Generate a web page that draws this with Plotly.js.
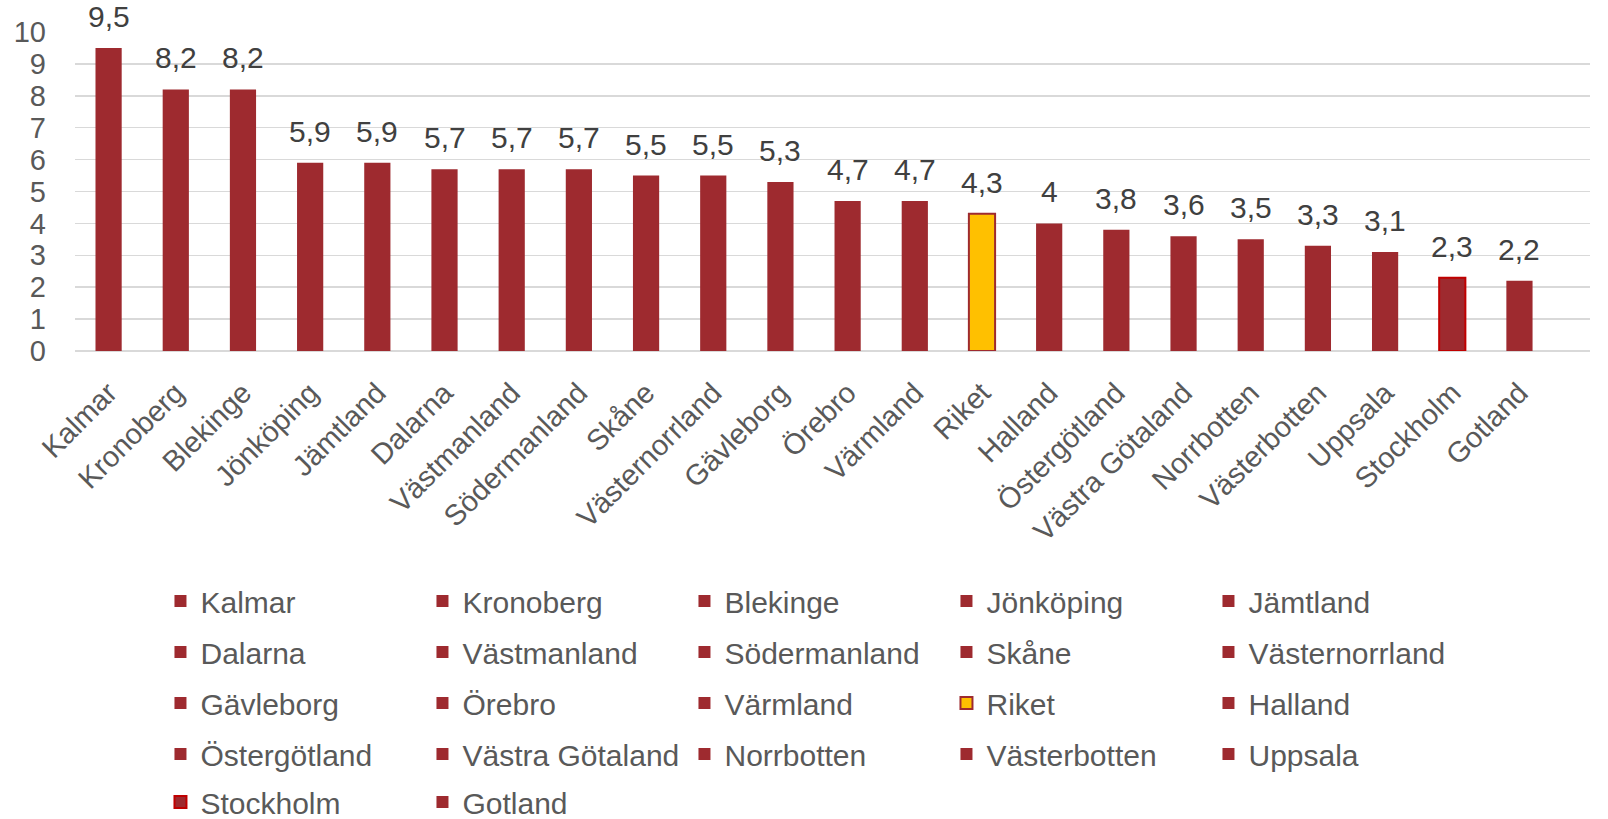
<!DOCTYPE html>
<html>
<head>
<meta charset="utf-8">
<script src="https://cdn.plot.ly/plotly-3.0.1.min.js"></script>
<style>html,body{margin:0;padding:0;background:#fff;}#chart{width:1608px;height:819px;}</style>
</head>
<body>
<div id="chart"></div>
<script>
const categories = ["Kalmar","Kronoberg","Blekinge","Jönköping","Jämtland","Dalarna","Västmanland","Södermanland","Skåne","Västernorrland","Gävleborg","Örebro","Värmland","Riket","Halland","Östergötland","Västra Götaland","Norrbotten","Västerbotten","Uppsala","Stockholm","Gotland"];
const values = [9.5,8.2,8.2,5.9,5.9,5.7,5.7,5.7,5.5,5.5,5.3,4.7,4.7,4.3,4.0,3.8,3.6,3.5,3.3,3.1,2.3,2.2];
const yTicks = [0,1,2,3,4,5,6,7,8,9,10];

const barColor = "#9E2A2F";
const fillColors = {"Riket": "#FFC000"};
const lineColors = {"Riket": "#9E2A2F", "Stockholm": "#C00000"};

const FONT = "Liberation Sans, Arial, sans-serif";
const FS_LABEL = 30;
const FS_TICK = 29;
const FS_LEGEND = 30;
const legendNames = ["legend","legend2","legend3","legend4","legend5"];

const traces = categories.map((c, i) => ({
  type: "bar",
  name: c,
  x: [c],
  y: [values[i]],
  width: 0.39,
  marker: {
    color: fillColors[c] || barColor,
    line: {color: lineColors[c] || barColor, width: lineColors[c] ? 2 : 0}
  },
  legend: legendNames[Math.floor(i / 5)],
  hoverinfo: "x+y"
}));

const annotations = categories.map((c, i) => ({
  x: c,
  y: values[i],
  xref: "x",
  yref: "y",
  text: String(values[i]).replace(".", ","),
  showarrow: false,
  yanchor: "bottom",
  yshift: 13,
  font: {family: FONT, size: FS_LABEL, color: "#404040"}
}));

// plot area: left 74.5px, right ~1590px, top 32px, bottom 351px
const plotLeft = 74.5, plotRight = 1590, plotTop = 32, plotBottom = 351;
const pw = plotRight - plotLeft, ph = plotBottom - plotTop;
const rowY = [601, 652, 703, 754, 802];
const legendBase = {
  orientation: "h",
  xanchor: "left",
  yanchor: "middle",
  x: (160 - plotLeft) / pw,
  entrywidth: 217,
  entrywidthmode: "pixels",
  itemwidth: 30,
  font: {family: FONT, size: FS_LEGEND, color: "#595959"},
  bgcolor: "rgba(0,0,0,0)",
  traceorder: "normal",
  itemclick: false,
  itemdoubleclick: false
};

const layout = {
  width: 1608,
  height: 819,
  margin: {l: plotLeft, r: 1608 - plotRight, t: plotTop, b: 819 - plotBottom, autoexpand: false},
  paper_bgcolor: "#ffffff",
  plot_bgcolor: "#ffffff",
  barmode: "relative",
  font: {family: FONT, size: FS_TICK, color: "#595959"},
  showlegend: true,
  annotations: annotations,
  xaxis: {
    type: "category",
    categoryorder: "array",
    categoryarray: categories,
    range: [-0.5, 22.05],
    tickangle: -45,
    tickfont: {family: FONT, size: FS_TICK, color: "#595959"},
    showgrid: false,
    zeroline: false,
    showline: false,
    ticks: "",
    ticklabelstandoff: 18,
    fixedrange: true
  },
  yaxis: {
    range: [0, 10],
    tickvals: yTicks,
    ticktext: yTicks.map(String),
    tickfont: {family: FONT, size: FS_TICK, color: "#595959"},
    showgrid: true,
    gridcolor: "#D9D9D9",
    gridwidth: 1.5,
    zeroline: true,
    zerolinecolor: "#D9D9D9",
    zerolinewidth: 1.5,
    showline: false,
    ticks: "",
    ticklabelstandoff: 28,
    fixedrange: true
  }
};
legendNames.forEach((ln, k) => {
  layout[ln] = Object.assign({}, legendBase, {y: (plotBottom - rowY[k]) / ph});
});

Plotly.newPlot("chart", traces, layout, {displayModeBar: false, staticPlot: true});
</script>
</body>
</html>
